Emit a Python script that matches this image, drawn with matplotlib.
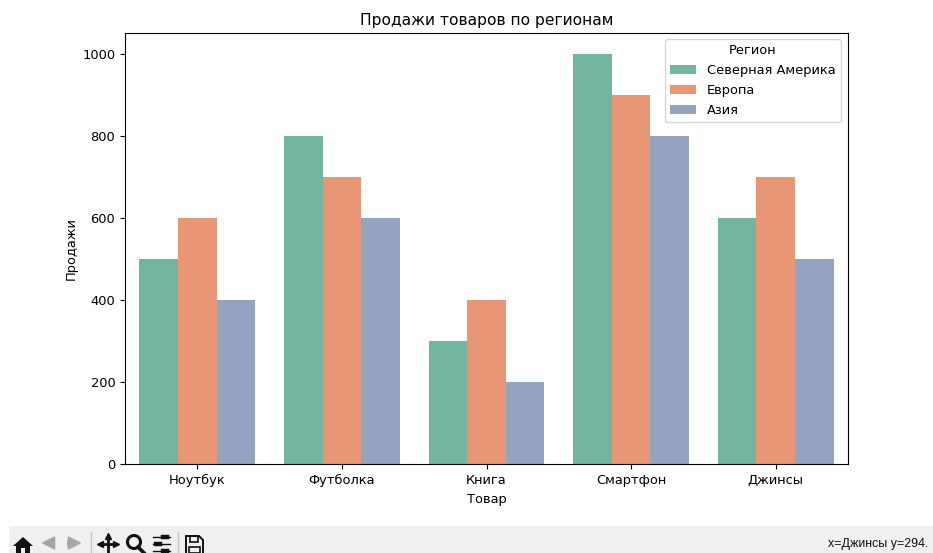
import matplotlib
matplotlib.use('Agg')
import matplotlib.pyplot as plt
import matplotlib.patches as patches
import numpy as np

products = ['Ноутбук', 'Футболка', 'Книга', 'Смартфон', 'Джинсы']
regions = ['Северная Америка', 'Европа', 'Азия']
north_america = [500, 800, 300, 1000, 600]
europe = [600, 700, 400, 900, 700]
asia = [400, 600, 200, 800, 500]
colors = ['#72b6a1', '#e99675', '#95a3c3']

plt.rcParams['font.size'] = 9.33

W, H = 933, 553
fig = plt.figure(figsize=(W / 100, H / 100), dpi=100)
ax = fig.add_axes([125 / W, 1 - 464 / H, 723 / W, 431 / H])

# Столбцы по регионам
width = 0.8 / 3
x = np.arange(len(products))
for i, values in enumerate([north_america, europe, asia]):
    ax.bar(x + (i - 1) * width, values, width, color=colors[i], label=regions[i])

ax.set_xlim(-0.5, 4.5)
ax.set_ylim(0, 1050)
ax.set_xticks(x, products)
ax.set_xlabel('Товар', labelpad=4.6)
ax.set_ylabel('Продажи', labelpad=3.2)
ax.set_title('Продажи товаров по регионам', pad=5.5)
ax.legend(title='Регион', loc='upper right', bbox_to_anchor=(0.9986, 1.001), labelspacing=0.54)

# Панель инструментов внизу окна
tb = fig.add_axes([0, 0, 1, 1], zorder=5)
tb.set_xlim(0, W)
tb.set_ylim(H, 0)
tb.axis('off')
tb.patch.set_alpha(0)
tb.add_patch(patches.Rectangle((9, 526), 924, 27, color='#f0f0f0', lw=0))

# домик
tb.add_patch(patches.Polygon([(13, 546), (23, 537), (33, 546)], closed=True, color='#111111', lw=0))
tb.add_patch(patches.Rectangle((16, 545), 14, 8, color='#111111', lw=0))
tb.add_patch(patches.Rectangle((21, 548), 4, 5, color='#f0f0f0', lw=0))

# стрелки
tb.annotate('', xy=(40, 543), xytext=(57, 543),
            arrowprops=dict(arrowstyle='simple', color='#a6a6a6', mutation_scale=17))
tb.annotate('', xy=(83, 543), xytext=(65, 543),
            arrowprops=dict(arrowstyle='simple', color='#a6a6a6', mutation_scale=17))
tb.plot([90.5, 90.5], [532, 553], color='#c8c8c8', lw=1)

# перемещение
tb.plot([100, 116], [544, 544], color='#111111', lw=2)
tb.plot([108, 108], [536, 553], color='#111111', lw=2)
tb.plot([100], [544], marker='<', ms=4.5, color='#111111')
tb.plot([116], [544], marker='>', ms=4.5, color='#111111')
tb.plot([108], [536], marker='^', ms=4.5, color='#111111')

# лупа
tb.add_patch(patches.Circle((134, 542), 6.5, fill=False, ec='#111111', lw=2.2))
tb.plot([138, 144], [547, 553], color='#111111', lw=2.6)

# настройки
for y_line, x_knob in zip([537, 544, 551], [165, 158, 165]):
    tb.plot([153, 170], [y_line, y_line], color='#111111', lw=1)
    tb.plot([x_knob - 2, x_knob + 2], [y_line, y_line], color='#111111', lw=3.2)
tb.plot([177.5, 177.5], [532, 553], color='#c8c8c8', lw=1)

# дискета
tb.add_patch(patches.Polygon([(186, 553), (186, 536), (199, 536), (203, 540), (203, 553)],
                             closed=False, fill=False, ec='#111111', lw=1.4))
tb.add_patch(patches.Rectangle((190, 536), 8, 6, fill=False, ec='#111111', lw=1.2))
tb.add_patch(patches.Rectangle((189, 547), 11, 6, fill=False, ec='#111111', lw=1.2))

tb.text(928, 544, 'x=Джинсы y=294.', ha='right', va='center', fontsize=8.9,
        family='Liberation Sans', color='#111111')

fig.savefig('out.png', dpi=100)
